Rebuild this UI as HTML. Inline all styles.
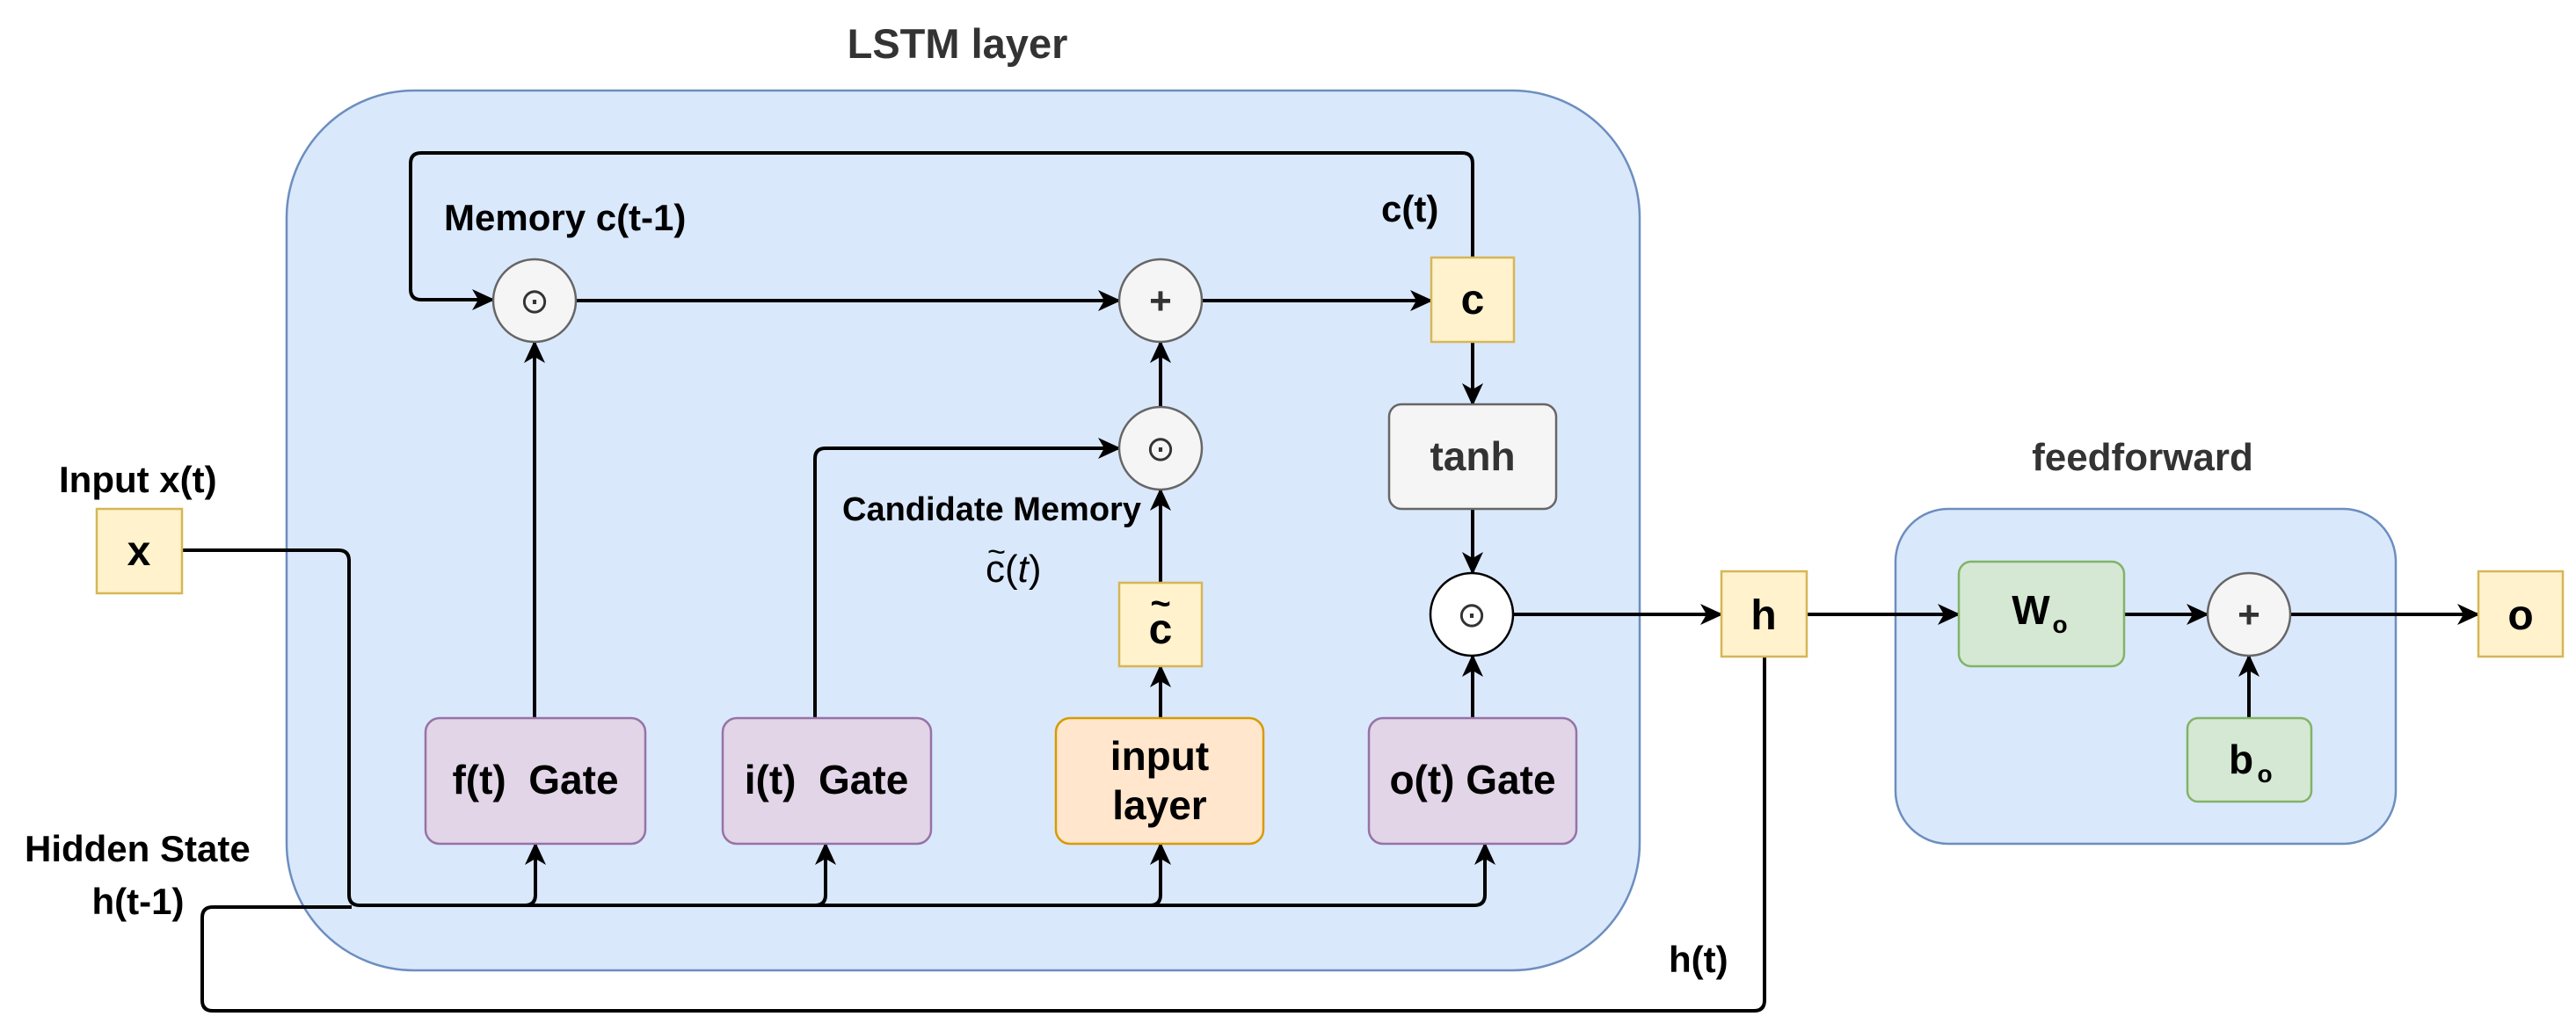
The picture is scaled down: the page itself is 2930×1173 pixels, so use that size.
<!DOCTYPE html>
<html><head><meta charset="utf-8"><style>
html,body{margin:0;padding:0;background:#fff;}
svg{display:block;}
text{font-family:"Liberation Sans",Arial,sans-serif;font-weight:bold;}
</style></head><body>
<svg width="2930" height="1173" viewBox="0 0 2930 1173" xmlns="http://www.w3.org/2000/svg">
<defs>
<marker id="a" markerUnits="userSpaceOnUse" markerWidth="26" markerHeight="24" refX="24" refY="12" orient="auto">
<path d="M0,0 L26,12 L0,24 L7,12 Z" fill="#000"/>
</marker>
</defs>
<rect x="326" y="103" width="1539" height="1001" rx="145" ry="145" fill="#dae8fc" stroke="#6c8ebf" stroke-width="2.5"/>
<text x="1089" y="66" font-size="47" fill="#333" text-anchor="middle">LSTM layer</text>
<rect x="2156" y="579" width="569" height="381" rx="60" ry="60" fill="#dae8fc" stroke="#6c8ebf" stroke-width="2.5"/>
<text x="2437" y="535" font-size="44" fill="#333" text-anchor="middle">feedforward</text>

<g fill="none" stroke="#000" stroke-width="4">
<path d="M1675,293 V186 Q1675,174 1663,174 H479 Q467,174 467,186 V329 Q467,341 479,341 H561" marker-end="url(#a)"/>
<path d="M655,342 H1273" marker-end="url(#a)"/>
<path d="M1367,342 H1628" marker-end="url(#a)"/>
<path d="M1675,389 V460" marker-end="url(#a)"/>
<path d="M1675,579 V652" marker-end="url(#a)"/>
<path d="M1721,699 H1958" marker-end="url(#a)"/>
<path d="M2055,699 H2228" marker-end="url(#a)"/>
<path d="M2416,699 H2511" marker-end="url(#a)"/>
<path d="M2605,699 H2819" marker-end="url(#a)"/>
<path d="M2558,817 V746" marker-end="url(#a)"/>
<path d="M1675,817 V746" marker-end="url(#a)"/>
<path d="M608,817 V389" marker-end="url(#a)"/>
<path d="M927,817 V522 Q927,510 939,510 H1273" marker-end="url(#a)"/>
<path d="M1320,817 V758" marker-end="url(#a)"/>
<path d="M1320,663 V557" marker-end="url(#a)"/>
<path d="M1320,463 V389" marker-end="url(#a)"/>
<path d="M207,626 H385 Q397,626 397,638 V1018 Q397,1030 409,1030 H1677 Q1689,1030 1689,1018 V960" marker-end="url(#a)"/>
<path d="M597,1030 Q609,1030 609,1018 V960" marker-end="url(#a)"/>
<path d="M927,1030 Q939,1030 939,1018 V960" marker-end="url(#a)"/>
<path d="M1308,1030 Q1320,1030 1320,1018 V960" marker-end="url(#a)"/>
<path d="M2007,747 V1138 Q2007,1150 1995,1150 H242 Q230,1150 230,1138 V1044 Q230,1032 242,1032 H400"/>
</g>

<g stroke="#666" stroke-width="2.5">
<circle cx="608" cy="342" r="47" fill="#f5f5f5"/>
<circle cx="1320" cy="342" r="47" fill="#f5f5f5"/>
<circle cx="1320" cy="510" r="47" fill="#f5f5f5"/>
<circle cx="1674" cy="699" r="47" fill="#fff" stroke="#000"/>
<circle cx="2558" cy="699" r="47" fill="#f5f5f5"/>
</g>
<g font-size="40" fill="#333" text-anchor="middle">
<text x="608" y="356" style="font-weight:normal">⊙</text>
<text x="1320" y="524" style="font-weight:normal">⊙</text>
<text x="1674" y="713" style="font-weight:normal">⊙</text>
</g>
<g font-size="44" fill="#333" text-anchor="middle">
<text x="1320" y="357">+</text>
<text x="2558" y="714">+</text>
</g>

<g fill="#fff2cc" stroke="#d6b656" stroke-width="2.5">
<rect x="110" y="579" width="97" height="96"/>
<rect x="1628" y="293" width="94" height="96"/>
<rect x="1273" y="663" width="94" height="95"/>
<rect x="1958" y="650" width="97" height="97"/>
<rect x="2819" y="650" width="96" height="97"/>
</g>
<g font-size="48" fill="#000" text-anchor="middle">
<text x="158" y="643">x</text>
<text x="1675" y="357">c</text>
<text x="1320" y="732" font-family="Liberation Serif,serif">c</text>
<text x="1320" y="700" font-size="40" font-family="Liberation Serif,serif">~</text>
<text x="2006" y="716">h</text>
<text x="2867" y="716">o</text>
</g>

<g stroke-width="2.5">
<rect x="484" y="817" width="250" height="143" rx="16" fill="#e1d5e7" stroke="#9673a6"/>
<rect x="822" y="817" width="237" height="143" rx="16" fill="#e1d5e7" stroke="#9673a6"/>
<rect x="1201" y="817" width="236" height="143" rx="16" fill="#ffe6cc" stroke="#d79b00"/>
<rect x="1557" y="817" width="236" height="143" rx="16" fill="#e1d5e7" stroke="#9673a6"/>
<rect x="1580" y="460" width="190" height="119" rx="14" fill="#f5f5f5" stroke="#666"/>
<rect x="2228" y="639" width="188" height="119" rx="14" fill="#d5e8d4" stroke="#82b366"/>
<rect x="2488" y="817" width="141" height="95" rx="12" fill="#d5e8d4" stroke="#82b366"/>
</g>
<g font-size="46" fill="#000" text-anchor="middle">
<text x="609" y="903" xml:space="preserve">f(t)  Gate</text>
<text x="940" y="903" xml:space="preserve">i(t)  Gate</text>
<text x="1319" y="876">input</text>
<text x="1319" y="932">layer</text>
<text x="1675" y="903">o(t) Gate</text>
<text x="1675" y="535" fill="#333">tanh</text>
<text x="2310" y="710">W</text><text x="2343" y="720" font-size="28">o</text>
<text x="2549" y="880">b</text><text x="2576" y="890" font-size="28">o</text>
</g>

<g font-size="42" fill="#000">
<text x="505" y="262">Memory c(t-1)</text>
<text x="1571" y="252">c(t)</text>
<text x="67" y="560">Input x(t)</text>
<text x="958" y="592" font-size="38">Candidate Memory</text>
<text x="1121" y="662" font-family="Liberation Serif,serif" style="font-weight:normal" font-size="44">c(<tspan font-style="italic">t</tspan>)</text>
<text x="1123" y="640" font-family="Liberation Serif,serif" style="font-weight:normal" font-size="36">~</text>
<text x="28" y="980">Hidden State</text>
<text x="157" y="1040" text-anchor="middle">h(t-1)</text>
<text x="1898" y="1106">h(t)</text>
</g>
</svg>
</body></html>
